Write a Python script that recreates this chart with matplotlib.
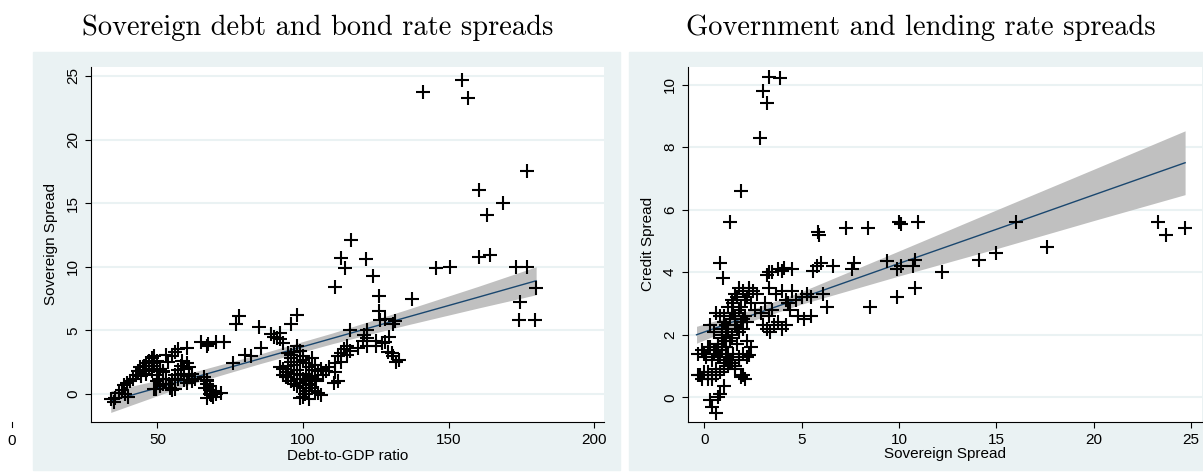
import numpy as np
import matplotlib.pyplot as plt
from matplotlib.patches import Rectangle
from matplotlib.transforms import blended_transform_factory

plt.rcParams['font.family'] = ['Liberation Sans', 'DejaVu Sans']

# left panel: debt-to-GDP ratio vs sovereign spread
debt = [34, 35, 35.5, 37, 38, 39, 40, 38.5, 39.5, 40.5, 41.5, 42.5, 43.5, 44, 45, 46, 47, 48, 49,
        46, 47, 48, 49, 50, 51, 52, 53, 44.5, 45.5, 48.5, 49.5, 50.5,
        55, 56, 57, 60, 58, 59, 60, 61, 62, 63, 62, 57, 56, 55, 54, 55, 56, 53, 52, 51, 50, 50, 51,
        49, 52, 57, 58, 59, 60, 61, 54.5, 53.5, 58.5,
        65, 67.5, 67, 70, 73, 66, 67, 67, 68, 68, 69, 67, 70, 72, 66.5, 68, 67, 69, 68.5,
        77, 78, 85, 85.5, 80, 82, 76,
        98, 96, 89, 91, 92, 93, 92, 90, 98, 99, 96, 97, 100, 95,
        92, 93, 94, 95, 96, 97, 98, 99, 100, 101, 102, 103, 101, 100, 99, 102, 104, 105, 106,
        103, 104, 105, 106, 107, 108, 109, 101, 102, 100, 99, 103, 104, 95, 96, 97, 98, 99, 100,
        101, 102, 103, 97, 98, 93, 94, 96, 100.5, 102.5, 104.5,
        113, 114, 115, 115, 116, 112, 113, 111, 111, 112, 110.5,
        116, 122, 121, 120.5, 122, 125, 127, 128, 129.5, 125, 119, 122,
        130.5, 131, 132, 133, 129,
        116.5, 113, 121.5, 114.5, 124, 111,
        137.5, 126, 126, 126.5, 131.5, 131, 128,
        141, 154.5, 156.5, 177, 160.5, 168.5, 163, 160.5, 164, 173, 177, 145.5, 150.5,
        180, 174.5, 174, 179.5]
sov = [-0.4, -0.6, -0.3, 0.1, 0.3, 0.0, -0.2, 0.7, 0.9, 1.0, 1.2, 1.5, 1.8, 2.1, 1.9, 2.4, 2.6, 2.8, 3.0,
       1.6, 2.0, 1.8, 2.2, 2.6, 2.0, 1.7, 3.1, 1.4, 2.2, 2.4, 0.4, 1.2,
       3.0, 3.3, 3.5, 3.6, 2.2, 2.0, 2.4, 2.1, 1.6, 1.2, 1.0, 1.9, 1.5, 1.1, 0.8, 0.3, 0.4, 1.2, 1.8, 2.0, 1.5, 1.0, 0.6,
       0.4, 0.8, 1.2, 1.6, 1.1, 0.9, 1.4, 0.5, 2.5, 2.6,
       4.1, 3.9, 3.8, 4.1, 4.1, 1.3, 1.0, 0.8, 0.3, 0.0, -0.2, -0.3, 0.0, 0.1, 0.5, 0.6, 1.1, 0.2, -0.1,
       5.5, 6.1, 5.3, 3.6, 3.1, 3.0, 2.4,
       6.2, 5.5, 4.7, 4.4, 4.8, 4.0, 4.3, 4.5, 3.8, 3.4, 3.1, 3.3, 3.0, 3.2,
       2.1, 2.0, 1.7, 2.2, 2.5, 2.3, 1.9, 1.5, 1.2, 1.0, 0.8, 0.5, 0.2, -0.2, -0.3, -0.4, 0.2, 0.1, -0.1,
       1.4, 1.2, 1.8, 2.0, 1.5, 1.8, 2.1, 2.4, 2.1, 2.7, 2.5, 2.8, 2.3, 1.3, 1.0, 0.8, 0.6, 0.9, 0.5,
       1.6, 1.3, 1.9, 1.6, 1.2, 1.5, 1.3, 2.8, 0.0, 0.7, 1.0,
       3.2, 3.5, 3.8, 3.1, 3.4, 3.0, 2.5, 2.4, 1.7, 1.0, 0.9,
       5.0, 5.0, 4.6, 4.2, 4.4, 4.2, 4.0, 4.1, 4.5, 3.8, 3.6, 3.8,
       3.2, 3.0, 2.5, 2.7, 3.3,
       12.1, 10.7, 10.6, 9.9, 9.3, 8.4,
       7.5, 7.7, 6.5, 5.8, 5.7, 5.5, 5.9,
       23.7, 24.7, 23.3, 17.5, 16.0, 15.0, 14.1, 10.8, 10.9, 10.0, 10.0, 9.9, 10.0,
       8.3, 7.2, 5.8, 5.8]

# fitted line and 95% band read at a few debt ratios
fit1_x = [34, 60, 85, 110, 135, 160, 180]
fit1_y = [-0.55, 1.13, 2.75, 4.37, 5.99, 7.60, 8.90]
fit1_lo = [-1.45, 0.68, 2.37, 3.95, 5.39, 6.75, 7.80]
fit1_hi = [0.25, 1.58, 3.13, 4.79, 6.59, 8.45, 10.00]

# right panel: sovereign spread vs credit spread
sov2 = [3.3, 3.9, 3.0, 3.2, 2.85, 1.9, 1.3, 0.8, 0.95,
        5.85, 5.9, 7.3, 8.4, 10.0, 10.1, 11.0, 16.0, 23.3, 23.7, 24.7, 17.6, 15.0, 14.1, 12.2,
        10.8, 10.7, 10.1, 9.9, 9.4, 10.8, 9.9, 8.5, 7.7, 7.6, 6.6, 6.0, 5.8, 5.6,
        6.3, 5.5, 5.1, 4.8, 6.1, 5.5, 5.3, 5.0, 4.7, 4.5, 4.3,
        3.2, 3.3, 3.5, 3.8, 4.1, 4.5, 4.0,
        3.0, 3.2, 3.4, 3.6, 3.8, 4.0, 4.2, 3.3, 3.5, 3.1, 3.3, 3.7, 4.0, 4.2, 4.4, 2.9,
        2.5, 2.7, 2.3, 2.2, 2.0, 1.8, 1.6, 1.5, 1.4, 1.7, 1.9, 2.1, 2.3, 2.4, 2.6,
        1.2, 1.4, 1.6, 1.8, 2.0, 2.2, 1.0, 1.1, 1.3, 1.5, 1.7, 1.9, 2.1,
        0.9, 1.0, 1.2, 1.4, 1.6, 1.8, 2.0, 2.2, 2.4, 0.6, 0.8, 1.0, 1.2, 1.4,
        0.5, 0.7, 0.9, 1.1, 1.3, 1.5, 1.7, 0.3, 0.5, 0.7, 0.9, 1.1, 1.3,
        0.0, 0.2, 0.4, 0.6, 0.8, 1.0, 1.2, 1.4, 1.6, 1.8, 2.0, 2.2,
        -0.2, 0.0, 0.2, 0.4, 0.6, 0.8, 1.0, 1.2, 1.4, 1.6, 1.8, 2.0,
        -0.3, -0.1, 0.1, 0.3, 0.5, 0.7, 0.9, 1.1, 1.3,
        -0.3, -0.1, 0.2, 0.4, 0.6, 0.9, 1.1, 2.1, 1.9, 2.3,
        0.3, 0.6, 0.8, 0.4, 1.0, 0.7]
credit = [10.25, 10.2, 9.8, 9.4, 8.3, 6.6, 5.6, 4.3, 3.8,
          5.3, 5.2, 5.4, 5.4, 5.6, 5.55, 5.6, 5.6, 5.6, 5.2, 5.4, 4.8, 4.6, 4.4, 4.0,
          4.4, 4.2, 4.2, 4.1, 4.35, 3.5, 3.2, 2.9, 4.3, 4.1, 4.2, 4.3, 4.2, 4.05,
          2.9, 2.6, 2.5, 2.6, 3.3, 3.2, 3.3, 3.2, 3.1, 3.4, 3.0,
          3.9, 4.0, 4.0, 4.1, 4.15, 4.1, 4.05,
          2.3, 2.2, 2.1, 2.3, 2.4, 2.2, 2.3, 2.6, 2.8, 3.0, 3.5, 3.3, 3.4, 3.1, 2.8, 2.7,
          3.4, 3.3, 3.5, 3.2, 3.4, 3.5, 3.3, 3.0, 3.1, 3.2, 2.9, 3.1, 3.4, 3.0, 2.8,
          2.9, 2.7, 2.6, 2.8, 2.5, 2.4, 2.6, 2.3, 2.5, 2.7, 2.2, 2.4, 2.6,
          2.0, 1.8, 2.1, 1.9, 2.3, 2.1, 2.2, 1.8, 1.6, 2.7, 2.6, 2.4, 2.2, 2.0,
          1.5, 1.7, 1.9, 1.6, 1.8, 1.4, 1.7, 2.3, 2.1, 1.3, 1.5, 1.2, 1.1,
          1.4, 1.6, 1.2, 1.5, 1.3, 1.1, 1.4, 1.2, 1.0, 1.3, 1.4, 1.3,
          0.7, 0.8, 0.6, 0.7, 0.9, 0.8, 0.9, 1.0, 1.1, 0.9, 1.2, 0.7,
          1.4, 1.5, 1.3, 1.6, 1.4, 1.7, 1.5, 1.6, 1.2,
          0.7, 0.6, 0.8, 0.6, 0.7, 2.2, 2.0, 0.6, 0.65, 1.35,
          -0.1, -0.5, 0.1, -0.3, 0.35, 0.0]

fit2_x = [-0.4, 2, 5, 10, 15, 20, 24.7]
fit2_y = [2.00, 2.53, 3.18, 4.28, 5.37, 6.47, 7.50]
fit2_lo = [1.73, 2.35, 2.98, 3.88, 4.75, 5.65, 6.48]
fit2_hi = [2.27, 2.71, 3.38, 4.68, 5.99, 7.29, 8.52]

bg = '#eaf2f3'
navy = '#1a476f'

fig = plt.figure(figsize=(12.03, 4.74), dpi=100)
fig.patches.append(Rectangle((0.0272, 0.0084), 0.4882, 0.8819, transform=fig.transFigure,
                             color=bg, zorder=-5))
fig.patches.append(Rectangle((0.5229, 0.0084), 0.4771, 0.8819, transform=fig.transFigure,
                             color=bg, zorder=-5))

ax1 = fig.add_axes([0.0756, 0.1103, 0.4265, 0.7483])
ax2 = fig.add_axes([0.5717, 0.1103, 0.4275, 0.7483])


def style(ax):
    ax.set_facecolor('white')
    for s in ['top', 'right']:
        ax.spines[s].set_visible(False)
    for s in ['left', 'bottom']:
        ax.spines[s].set_linewidth(0.8)
    ax.tick_params(length=4.3, width=0.8, labelsize=11, color='black')
    ax.yaxis.grid(True, color=bg, linewidth=1.5)
    ax.set_axisbelow(True)
    for lab in ax.get_yticklabels():
        lab.set_rotation(90)
        lab.set_va('center')


ax1.fill_between(fit1_x, fit1_lo, fit1_hi, color='#c0c0c0', lw=0, zorder=2)
ax1.plot(fit1_x, fit1_y, color=navy, lw=1.0, zorder=3)
ax1.plot(debt, sov, '+', color='black', ms=9.5, mew=1.5, zorder=4)
ax1.set_xlim(27.2, 203.3)
ax1.set_ylim(-2.18, 25.7)
ax1.set_xticks([50, 100, 150, 200])
ax1.set_yticks([0, 5, 10, 15, 20, 25])
ax1.set_xlabel('Debt-to-GDP ratio', fontsize=11, labelpad=2)
ax1.set_ylabel('Sovereign Spread', fontsize=11, labelpad=6)
style(ax1)

# stray tick at zero, drawn outside the plot region
tr = blended_transform_factory(ax1.transData, ax1.transAxes)
ax1.plot([0, 0], [0, -0.015], transform=tr, color='black', lw=0.8, clip_on=False)
ax1.text(0, -0.035, '0', transform=tr, ha='center', va='top', fontsize=11)

ax2.fill_between(fit2_x, fit2_lo, fit2_hi, color='#c0c0c0', lw=0, zorder=2)
ax2.plot(fit2_x, fit2_y, color=navy, lw=1.0, zorder=3)
ax2.plot(sov2, credit, '+', color='black', ms=9.5, mew=1.5, zorder=4)
ax2.set_xlim(-0.85, 25.57)
ax2.set_ylim(-0.78, 10.56)
ax2.set_xticks([0, 5, 10, 15, 20, 25])
ax2.set_yticks([0, 2, 4, 6, 8, 10])
ax2.set_xlabel('Sovereign Spread', fontsize=11, labelpad=0)
ax2.set_ylabel('Credit Spread', fontsize=11, labelpad=6)
style(ax2)

fig.text(318 / 1203, 1 - 28 / 474, 'Sovereign debt and bond rate spreads', family='cmr10',
         fontsize=20.5, ha='center', va='center')
fig.text(921 / 1203, 1 - 28 / 474, 'Government and lending rate spreads', family='cmr10',
         fontsize=20.5, ha='center', va='center')

fig.savefig('out.png', dpi=100)
